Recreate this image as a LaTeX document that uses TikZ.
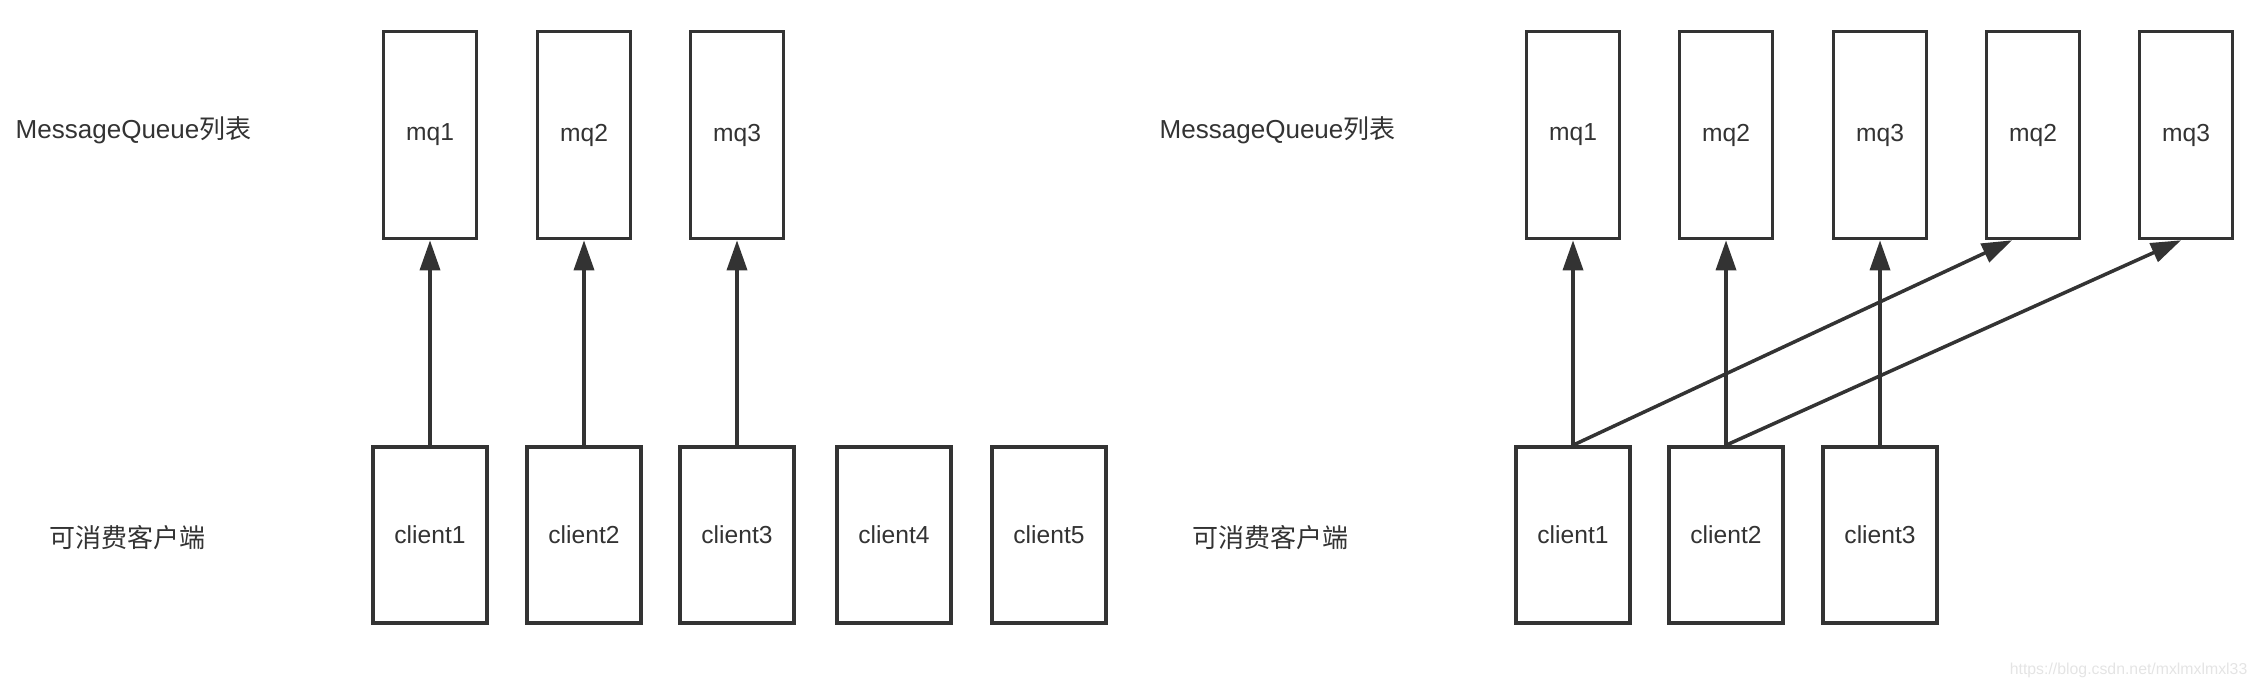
\documentclass[tikz,border=0pt]{standalone}
\usepackage{fontspec}
\setmainfont{Liberation Sans}
\newfontfamily\cjk{Noto Sans CJK SC}
\definecolor{boxgray}{RGB}{51, 51, 51}
\definecolor{markgray}{RGB}{228, 228, 228}
\usetikzlibrary{arrows.meta}

\begin{document}
\begin{tikzpicture}[x=0.01cm, y=0.01cm,
  mqbox/.style={draw=boxgray, line width=1pt, minimum width=0.93cm, minimum height=2.07cm, inner sep=0pt, text=boxgray, font=\fontsize{7}{8}\selectfont},
  clientbox/.style={draw=boxgray, line width=1pt, minimum width=1.14cm, minimum height=1.76cm, inner sep=0pt, text=boxgray, font=\fontsize{7}{8}\selectfont},
  rowtitle/.style={anchor=west, inner sep=0pt, text=boxgray, font=\fontsize{7.4}{8}\selectfont},
  link/.style={draw=boxgray, line width=1pt, -{Triangle[length=0.3cm, width=0.2cm]}}]
  \useasboundingbox (0,0) rectangle (2254,688);

  % left: one queue per client
  \node[rowtitle] (titlemqa) at (15,558) {MessageQueue{\cjk 列表}};
  \node[rowtitle] (titlecla) at (49,150) {\cjk 可消费客户端};
  \node[mqbox] (mqa1) at (430,553) {mq1};
  \node[mqbox] (mqa2) at (584,553) {mq2};
  \node[mqbox] (mqa3) at (737,553) {mq3};
  \node[clientbox] (cla1) at (430,153) {client1};
  \node[clientbox] (cla2) at (584,153) {client2};
  \node[clientbox] (cla3) at (737,153) {client3};
  \node[clientbox] (cla4) at (894,153) {client4};
  \node[clientbox] (cla5) at (1049,153) {client5};
  \draw[link] (cla1.north) -- (mqa1.south);
  \draw[link] (cla2.north) -- (mqa2.south);
  \draw[link] (cla3.north) -- (mqa3.south);

  % right: fewer clients, two queues each
  \node[rowtitle] (titlemqb) at (1159,558) {MessageQueue{\cjk 列表}};
  \node[rowtitle] (titleclb) at (1192,150) {\cjk 可消费客户端};
  \node[mqbox] (mqb1) at (1573,553) {mq1};
  \node[mqbox] (mqb2) at (1726,553) {mq2};
  \node[mqbox] (mqb3) at (1880,553) {mq3};
  \node[mqbox] (mqb4) at (2033,553) {mq2};
  \node[mqbox] (mqb5) at (2186,553) {mq3};
  \node[clientbox] (clb1) at (1573,153) {client1};
  \node[clientbox] (clb2) at (1726,153) {client2};
  \node[clientbox] (clb3) at (1880,153) {client3};
  \draw[link] (clb1.north) -- (mqb1.south);
  \draw[link] (clb2.north) -- (mqb2.south);
  \draw[link] (clb3.north) -- (mqb3.south);
  \draw[link] (clb1.north) -- ([xshift=-0.21cm]mqb4.south);
  \draw[link] (clb2.north) -- ([xshift=-0.05cm]mqb5.south);

  \node[anchor=east, inner sep=0pt, text=markgray, font=\fontsize{4.5}{5}\selectfont] (mark) at (2248,18) {https://blog.csdn.net/mxlmxlmxl33};
\end{tikzpicture}
\end{document}
